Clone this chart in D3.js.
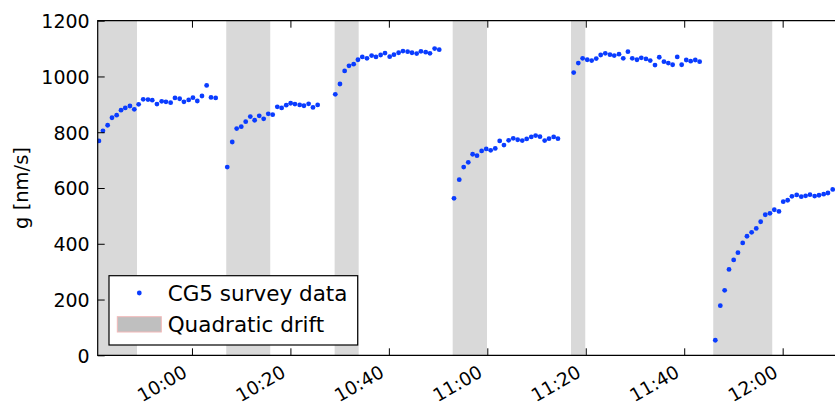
<!DOCTYPE html>
<html>
<head>
<meta charset="utf-8">
<script src="https://cdn.jsdelivr.net/npm/d3@7"></script>
<style>
    body { margin: 0; background: #fff; }
    svg { display: block; }
    text { font-family: "DejaVu Sans", sans-serif; fill: #000; }
</style>
</head>
<body>
<div id="chartContainer"></div>
<script>
// Survey readings (time of reading, gravity value in nm/s)
const surveyTimes = [
    "09:41:06", "09:41:55", "09:42:52", "09:43:45", "09:44:42", "09:45:35", "09:46:27", "09:47:24", "09:48:17",
    "09:49:10", "09:50:06", "09:51:04", "09:51:56", "09:52:53", "09:53:51", "09:54:43", "09:55:40", "09:56:33",
    "09:57:30", "09:58:22", "09:59:20", "10:00:12", "10:01:05", "10:02:02", "10:02:59", "10:03:52", "10:04:49",
    "10:07:10", "10:08:11", "10:09:05", "10:10:01", "10:10:55", "10:11:51", "10:12:44", "10:13:40", "10:14:34",
    "10:15:30", "10:16:24", "10:17:20", "10:18:13", "10:19:09", "10:20:03", "10:20:55", "10:21:53", "10:22:45",
    "10:23:42", "10:24:35", "10:25:32",
    "10:29:07", "10:30:04", "10:31:01", "10:31:54", "10:32:51", "10:33:43", "10:34:36", "10:35:33", "10:36:30",
    "10:37:23", "10:38:20", "10:39:13", "10:40:10", "10:41:02", "10:41:59", "10:42:52", "10:43:49", "10:44:42",
    "10:45:39", "10:46:31", "10:47:29", "10:48:21", "10:49:18", "10:50:14",
    "10:53:14", "10:54:18", "10:55:12", "10:56:08", "10:57:01", "10:57:54", "10:58:51", "10:59:47", "11:00:41",
    "11:01:37", "11:02:31", "11:03:23", "11:04:20", "11:05:16", "11:06:10", "11:07:06", "11:08:00", "11:08:56",
    "11:09:49", "11:10:42", "11:11:39", "11:12:32", "11:13:29", "11:14:21",
    "11:17:33", "11:18:29", "11:19:22", "11:20:18", "11:21:12", "11:22:08", "11:23:02", "11:23:58", "11:24:55",
    "11:25:47", "11:26:45", "11:27:37", "11:28:34", "11:29:27", "11:30:24", "11:31:17", "11:32:14", "11:33:06",
    "11:34:04", "11:34:56", "11:35:53", "11:36:46", "11:37:39", "11:38:35", "11:39:29", "11:40:25", "11:41:19",
    "11:42:15", "11:43:08",
    "11:46:19", "11:47:20", "11:48:13", "11:49:06", "11:50:03", "11:50:55", "11:51:53", "11:52:45", "11:53:42",
    "11:54:38", "11:55:32", "11:56:28", "11:57:25", "11:58:18", "11:59:15", "12:00:07", "12:01:01", "12:01:53",
    "12:02:51", "12:03:47", "12:04:40", "12:05:33", "12:06:30", "12:07:23", "12:08:20", "12:09:12", "12:10:10"
];
const surveyValues = [
    769, 805, 825, 852, 861, 879, 887, 894, 882,
    900, 918, 917, 915, 901, 911, 909, 906, 923,
    920, 909, 916, 924, 912, 930, 968, 925, 923,
    675, 765, 813, 820, 838, 856, 843, 859, 848,
    866, 863, 891, 887, 897, 904, 901, 898, 895,
    902, 889, 898,
    936, 973, 1020, 1038, 1044, 1060, 1070, 1065, 1075,
    1070, 1077, 1084, 1071, 1078, 1085, 1091, 1089, 1085,
    1082, 1090, 1087, 1083, 1100, 1096,
    563, 630, 675, 692, 721, 716, 733, 740, 735,
    742, 769, 754, 771, 778, 773, 770, 776, 783,
    788, 784, 770, 777, 783, 777,
    1014, 1048, 1065, 1060, 1057, 1064, 1077, 1083, 1078,
    1075, 1080, 1065, 1089, 1065, 1060, 1067, 1063, 1057,
    1041, 1069, 1053, 1048, 1042, 1070, 1042, 1059, 1055,
    1059, 1053,
    54, 178, 233, 308, 342, 368, 403, 427, 441,
    455, 479, 504, 509, 522, 516, 551, 556, 570,
    575, 569, 572, 576, 571, 574, 578, 582, 595
];

// Shaded drift intervals
const driftStarts = ["09:38:00", "10:06:58", "10:28:59", "10:52:58", "11:17:00", "11:45:54"];
const driftEnds = ["09:48:50", "10:15:54", "10:33:52", "10:59:56", "11:19:54", "11:57:53"];

const timeDomain = ["09:40:51", "12:10:38"];
const yTicks = [0, 200, 400, 600, 800, 1000, 1200];

// Dimensions
const margin = { top: 20.7, right: 0, bottom: 50.7, left: 97.7 },
    width = 835 - margin.left - margin.right,
    height = 406 - margin.top - margin.bottom;

const parseTime = d3.timeParse("%H:%M:%S");

const svgRoot = d3.select("#chartContainer")
    .append("svg")
    .attr("width", 835)
    .attr("height", 406);

const svg = svgRoot.append("g")
    .attr("transform", `translate(${margin.left},${margin.top})`);

svgRoot.append("defs").append("clipPath")
    .attr("id", "plotClip")
    .append("rect")
    .attr("width", width)
    .attr("height", height);

const x = d3.scaleTime()
    .domain(timeDomain.map(parseTime))
    .range([0, width]);

const y = d3.scaleLinear()
    .domain([0, 1200])
    .range([height, 0]);

const plot = svg.append("g").attr("clip-path", "url(#plotClip)");

// Drift spans
plot.selectAll(".span")
    .data(driftStarts.map((s, i) => ({ start: parseTime(s), end: parseTime(driftEnds[i]) })))
    .enter()
    .append("rect")
    .attr("x", d => x(d.start))
    .attr("width", d => x(d.end) - x(d.start))
    .attr("y", 0)
    .attr("height", height)
    .attr("fill", "#d9d9d9");

// Survey points
const points = surveyTimes.map((t, i) => ({ time: parseTime(t), value: surveyValues[i] }));

plot.selectAll(".dot")
    .data(points)
    .enter()
    .append("circle")
    .attr("cx", d => x(d.time))
    .attr("cy", d => y(d.value))
    .attr("r", 2.4)
    .attr("fill", "#0a3cff");

// Y-axis (ticks inside)
const yAxis = svg.append("g")
    .call(d3.axisLeft(y).tickValues(yTicks).tickFormat(d3.format("d"))
        .tickSizeInner(-7).tickSizeOuter(0).tickPadding(8));
yAxis.select(".domain").remove();
yAxis.selectAll("text").style("font-size", "19px").attr("dy", "0.36em");

// X-axis bottom
const xTicks = x.ticks(d3.timeMinute.every(20));
const xAxis = svg.append("g")
    .attr("transform", `translate(0,${height})`)
    .call(d3.axisBottom(x).tickValues(xTicks).tickFormat(d3.timeFormat("%H:%M")).tickSizeInner(-7).tickSizeOuter(0));
xAxis.select(".domain").remove();
xAxis.selectAll("text")
    .style("font-size", "18.5px")
    .attr("text-anchor", "end")
    .attr("x", 0).attr("y", 0).attr("dy", 0)
    .attr("transform", "translate(-4,20.5) rotate(-30)");

// X-axis top ticks
const xTop = svg.append("g")
    .call(d3.axisTop(x).tickValues(xTicks).tickFormat("").tickSizeInner(-7).tickSizeOuter(0));
xTop.select(".domain").remove();

// Frame
svg.append("path")
    .attr("d", `M${width + 2},0H0V${height}H${width + 2}`)
    .attr("fill", "none")
    .attr("stroke", "#000")
    .attr("stroke-width", 1.2);

// Y label
svg.append("text")
    .attr("transform", "rotate(-90)")
    .attr("x", -height / 2)
    .attr("y", 28 - margin.left)
    .attr("text-anchor", "middle")
    .style("font-size", "19.5px")
    .text("g [nm/s]");

// Legend
const legend = svgRoot.append("g");
legend.append("rect")
    .attr("x", 109).attr("y", 275.7)
    .attr("width", 248.7).attr("height", 69.3)
    .attr("fill", "#fff")
    .attr("stroke", "#000")
    .attr("stroke-width", 1.2);
legend.append("circle").attr("cx", 139.3).attr("cy", 293).attr("r", 2.4).attr("fill", "#0a3cff");
legend.append("text").attr("x", 167.7).attr("y", 301).style("font-size", "21.5px").text("CG5 survey data");
legend.append("rect")
    .attr("x", 117.3).attr("y", 316.7)
    .attr("width", 44).attr("height", 15.3)
    .attr("fill", "#bfbfbf")
    .attr("stroke", "#f2b8b8")
    .attr("stroke-width", 1);
legend.append("text").attr("x", 167.7).attr("y", 332).style("font-size", "21.5px").text("Quadratic drift");
</script>
</body>
</html>
